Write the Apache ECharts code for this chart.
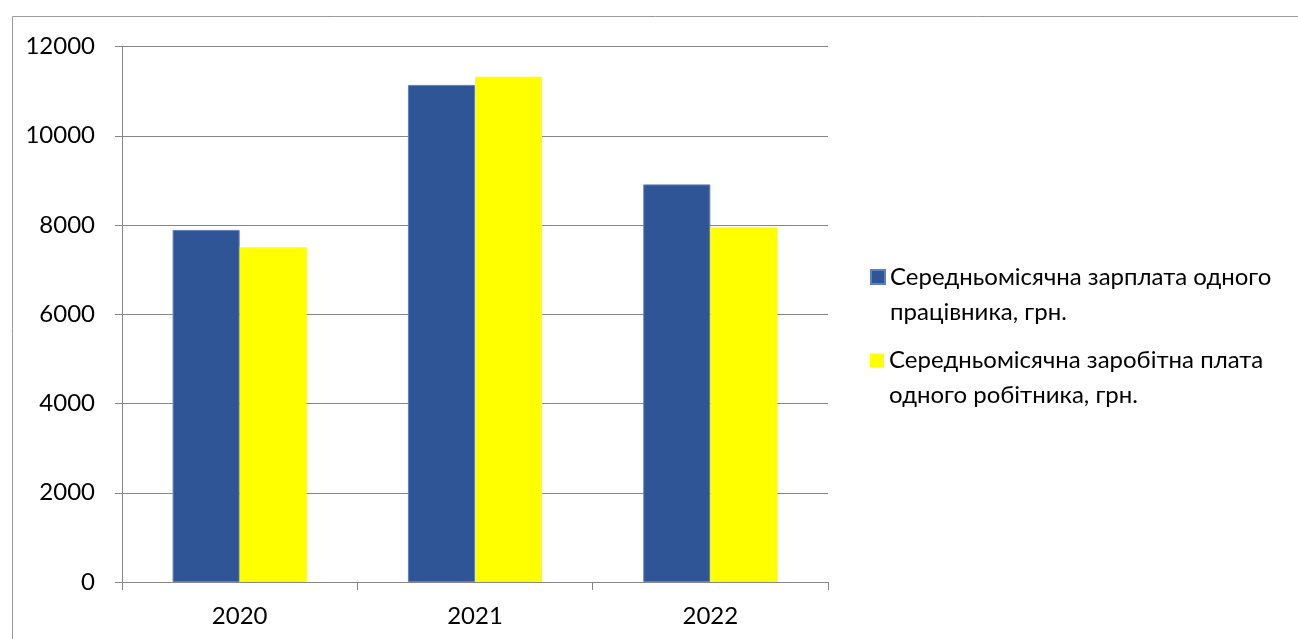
<!DOCTYPE html>
<html>
<head>
<meta charset="utf-8">
<script src="https://cdn.jsdelivr.net/npm/echarts@6/dist/echarts.min.js"></script>
<style>
  html, body { margin: 0; padding: 0; background: #fff; }
  #chart { width: 1298px; height: 639px; }
</style>
</head>
<body>
<div id="chart"></div>
<script>
// Years on the category axis
const years = ['2020', '2021', '2022'];
// Average monthly wage per employee, UAH
const wageEmployee = [7890, 11140, 8910];
// Average monthly wage per worker, UAH
const wageWorker = [7500, 11320, 7950];
// Series names and how they wrap in the legend
const nameEmployee = 'Середньомісячна зарплата одного працівника, грн.';
const nameWorker = 'Середньомісячна заробітна плата одного робітника, грн.';
const legendLines = {};
legendLines[nameEmployee] = ['Середньомісячна зарплата одного', 'працівника, грн.'];
legendLines[nameWorker] = ['Середньомісячна заробітна плата', 'одного робітника, грн.'];

const FONT = 'Lato, "Open Sans", "Noto Sans", sans-serif';
const FONT_SIZE = 24;
const AXIS_GREY = '#868686';

// Legend text is vertically centred on its swatch; an empty leading line
// puts the first text line level with the swatch instead.
const legendBase = {
  orient: 'vertical',
  left: 865,
  icon: 'rect',
  itemWidth: 14,
  itemHeight: 14,
  selectedMode: false,
  formatter: n => '\n' + legendLines[n].join('\n'),
  textStyle: {
    fontFamily: FONT,
    fontSize: FONT_SIZE,
    color: '#000',
    lineHeight: 35
  }
};

const chart = echarts.init(document.getElementById('chart'), null, { renderer: 'canvas' });
chart.setOption({
  animation: false,
  backgroundColor: '#fff',
  textStyle: { fontFamily: FONT },
  graphic: [{
    type: 'rect',
    shape: { x: 12.5, y: 16.5, width: 1400, height: 800 },
    style: { fill: 'none', stroke: '#9a9a9a', lineWidth: 1 },
    silent: true
  }],
  grid: { left: 122, right: 470, top: 46.5, bottom: 57, containLabel: false },
  legend: [
    Object.assign({}, legendBase, { top: 219.5, data: [nameEmployee] }),
    Object.assign({}, legendBase, { top: 303, data: [nameWorker] })
  ],
  xAxis: {
    type: 'category',
    data: years,
    axisLine: { lineStyle: { color: AXIS_GREY, width: 1 } },
    axisTick: { show: true, length: 8, lineStyle: { color: AXIS_GREY } },
    axisLabel: { color: '#000', fontSize: FONT_SIZE, fontFamily: FONT, margin: 22 }
  },
  yAxis: {
    type: 'value',
    min: 0,
    max: 12000,
    interval: 2000,
    axisLine: { show: true, lineStyle: { color: AXIS_GREY, width: 1 } },
    axisTick: { show: true, length: 7, lineStyle: { color: AXIS_GREY } },
    axisLabel: {
      color: '#000', fontSize: FONT_SIZE, fontFamily: FONT, margin: 27,
      formatter: v => String(v)
    },
    splitLine: { lineStyle: { color: AXIS_GREY, width: 1 } }
  },
  series: [
    {
      name: nameEmployee,
      type: 'bar',
      data: wageEmployee,
      barGap: '0%',
      barCategoryGap: '43%',
      itemStyle: { color: '#2F5597', borderColor: '#5F80BE', borderWidth: 1 }
    },
    {
      name: nameWorker,
      type: 'bar',
      data: wageWorker,
      barGap: '0%',
      barCategoryGap: '43%',
      itemStyle: { color: '#FFFF00' }
    }
  ]
});
</script>
</body>
</html>
